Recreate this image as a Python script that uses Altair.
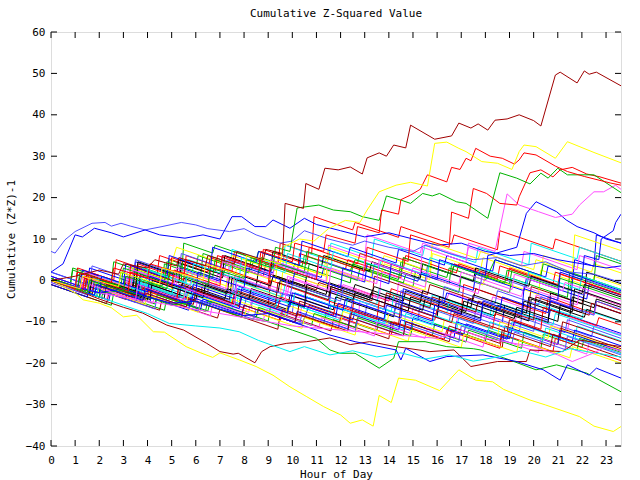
import altair as alt
import pandas as pd

TITLE = "Cumulative Z-Squared Value"
X_TITLE = "Hour of Day"
Y_TITLE = "Cumulative (Z*Z)-1"
X_TICKS = [0, 1, 2, 3, 4, 5, 6, 7, 8, 9, 10, 11, 12, 13, 14, 15, 16, 17, 18, 19, 20, 21, 22, 23]
Y_TICKS = [-40, -30, -20, -10, 0, 10, 20, 30, 40, 50, 60]
X_MAX = 23.62

# ---- background bundle of cumulative traces (hour, value) ----
S01 = [(0,0),(1.5,-3),(1.6,1),(4,-4),(4.1,1),(6.2,-3.4),(6.3,-0.4),(9,-6),(9.1,0),(12.5,-7),(12.6,-2),(14,-5),(14.1,-2),(17,-8),(17.1,-1),(20.5,-8),(20.6,-4),(22.5,-8),(22.6,-5),(23.62,-7.2)]
S02 = [(0,1),(0.8,-0.6),(0.9,3),(2.5,-0.2),(2.6,4.5),(4.8,0.1),(4.9,5),(6,2.8),(6.1,6),(8.2,1.8),(8.3,5.5),(10,2.1),(10.1,4),(12.4,-0.6),(12.5,3.5),(15,-1.5),(15.1,2),(16.5,-0.8),(16.6,4),(19,-0.8),(19.1,2.5),(21.5,-2.3),(21.6,1),(23.62,-3)]
S03 = [(0,0),(2,-4),(2.1,-1),(3.5,-3.8),(3.6,0),(5.5,-3.8),(5.6,-1.5),(7.8,-6),(7.9,-2),(9.5,-5.2),(9.6,-3),(11.5,-6.8),(11.6,-2.5),(13.8,-7),(13.9,-4),(16,-8.2),(16.1,-5),(18.7,-10.2),(18.8,-6),(20.6,-9.6),(20.7,-7),(23.62,-12.8)]
S04 = [(0,-0.5),(1.2,-2.9),(1.3,1),(3,-2.4),(3.1,0.5),(4.5,-2.3),(4.6,2),(6.8,-2.4),(6.9,1.5),(8.6,-1.9),(8.7,-0.5),(10.5,-4.1),(10.6,0),(12,-2.8),(12.1,-1),(14.3,-5.4),(14.4,-0.5),(16.4,-4.5),(16.5,-3),(18.2,-6.4),(18.3,-4),(20,-7.4),(20.1,-3.5),(22.5,-8.3),(22.6,-6),(23.62,-8)]
S05 = [(0,0),(1.5,-3),(1.6,-0.5),(3.2,-3.7),(3.3,-2),(5.5,-6.4),(5.6,-3),(7.5,-6.8),(7.6,-4),(9.8,-8.4),(9.9,-5.5),(12,-9.7),(12.1,-7),(14.6,-12),(14.7,-8),(16.8,-12.2),(16.9,-9),(19,-13.2),(19.1,-10),(21.7,-15.2),(21.8,-11),(23.62,-14.6)]
S06 = [(0,0.5),(1,-1.5),(1.1,2),(3,-1.8),(3.1,1),(5,-2.8),(5.1,0),(6.5,-2.8),(6.6,2.5),(9,-2.3),(9.1,1.5),(11,-2.3),(11.1,-0.5),(13.3,-4.9),(13.4,1),(15.6,-3.4),(15.7,-1),(17.5,-4.6),(17.6,-2),(19.8,-6.4),(19.9,-1.5),(22,-5.7),(22.1,-3),(23.62,-6)]
S07 = [(0,0),(1.3,-2.6),(1.4,0.5),(2.8,-2.3),(2.9,2),(5,-2.2),(5.1,1),(7.2,-3.2),(7.3,0.5),(9.5,-3.9),(9.6,2),(11.4,-1.6),(11.5,3),(13.2,-0.4),(13.3,2),(15.5,-2.4),(15.6,3.5),(17.9,-1.1),(18,1),(20.2,-3.4),(20.3,2.5),(22.4,-1.7),(22.5,1),(23.62,-1.2)]
S08 = [(0,0),(1.8,-3.6),(1.9,-0.5),(4,-4.7),(4.1,-1),(6,-4.8),(6.1,-2),(7.4,-4.6),(7.5,0.5),(8.5,-1.5),(8.6,2.5),(10.5,-1.3),(10.6,1),(12.5,-2.8),(12.6,-1),(14.6,-5),(14.7,-2.5),(17.2,-7.5),(17.3,-4.5),(19.5,-8.9),(19.6,-5),(21.5,-8.8),(21.6,-4),(23.62,-8)]
S09 = [(0,1),(2.2,-3.4),(2.3,0),(4,-3.4),(4.1,-1.5),(6.4,-6.1),(6.5,-3),(8.3,-6.6),(8.4,-2.5),(10.5,-6.7),(10.6,-4),(13,-8.8),(13.1,-5.5),(15.2,-9.7),(15.3,-6),(17.5,-10.4),(17.6,-7.5),(20,-12.3),(20.1,-9),(22.4,-13.6),(22.5,-11),(23.62,-13.2)]
S10 = [(0,0),(1,-2),(1.1,3),(2.6,0),(2.7,5),(4.4,1.6),(4.5,6),(6.5,2),(6.6,5.5),(8.8,1.1),(8.9,4),(10.2,1.4),(10.3,6.5),(12.2,2.7),(12.3,5),(14.5,0.6),(14.6,5.5),(16.6,1.5),(16.7,4),(18.5,0.4),(18.6,3.5),(20.8,-0.9),(20.9,2),(23.62,-3.4)]
S11 = [(0,-1),(2.5,-6),(2.6,-3),(4.7,-7.2),(4.8,-4),(6.5,-7.4),(6.6,-5),(9,-9.8),(9.1,-6),(11.3,-10.4),(11.4,-8),(13.5,-12.2),(13.6,-9),(15.8,-13.4),(15.9,-10.5),(18,-14.7),(18.1,-12),(20.3,-16.4),(20.4,-13),(22,-16.2),(22.1,-14),(23.62,-17)]
S12 = [(0,2),(1.5,-1),(1.6,3),(3.4,-0.6),(3.5,4.5),(5.3,0.9),(5.4,3),(7,-0.2),(7.1,6),(9.2,1.8),(9.3,4.5),(11.2,0.7),(11.3,3),(13,-0.4),(13.1,4),(15.2,-0.2),(15.3,2),(17.5,-2.4),(17.6,1.5),(19.6,-2.5),(19.7,0.5),(22.2,-4.5),(22.3,-1),(23.62,-3.6)]
S13 = [(0,0),(2,-4),(2.1,-2),(3.8,-5.4),(3.9,-3),(6,-7.2),(6.1,-3.5),(8.2,-7.7),(8.3,-5),(10.3,-9),(10.4,-6),(12.7,-10.6),(12.8,-5),(14.9,-9.2),(15,-7),(16.8,-10.6),(16.9,-6.5),(19.2,-11.1),(19.3,-8),(21.4,-12.2),(21.5,-9),(23.62,-13.2)]
S14 = [(0,0.5),(1.5,-2.5),(1.6,1),(3.5,-2.8),(3.6,0.5),(5.8,-3.9),(5.9,-0.5),(7.5,-3.7),(7.6,0),(9.6,-4),(9.7,-1),(11.8,-5.2),(11.9,-2.5),(13.5,-5.7),(13.6,-2),(15.7,-6.2),(15.8,-3.5),(18.2,-8.3),(18.3,-5),(20,-8.4),(20.1,-5.5),(22,-9.3),(22.1,-7),(23.62,-10)]
S15 = [(0,-1),(2.3,-5.6),(2.4,-3),(4.5,-7.2),(4.6,-4.5),(6.9,-9.1),(7,-7),(9.4,-11.8),(9.5,-8),(11.6,-12.2),(11.7,-9.5),(14,-14.1),(14.1,-10),(16.5,-14.8),(16.6,-12),(18.7,-16.2),(18.8,-11),(21,-15.4),(21.1,-11.5),(23.62,-16.5)]
S16 = [(0,0),(1.6,-3.2),(1.7,-0.5),(3.8,-4.7),(3.9,-1),(5.5,-4.2),(5.6,2),(7.5,-1.8),(7.7,3),(9.3,-0.2),(9.4,5),(11.3,1.2),(11.4,6),(13.7,1.4),(13.8,4),(15.7,0.2),(15.8,6.5),(17.8,2.5),(17.9,5.5),(20.3,0.7),(20.4,6),(22.4,2),(22.5,4),(23.62,1.8)]
S17 = [(0,0),(2,-4),(2.1,-1.5),(3.3,-3.9),(3.4,-0.5),(5.3,-4.3),(5.4,-1),(7.2,-4.6),(7.3,-2),(9.8,-7),(9.9,-3.5),(11.7,-7.1),(11.8,-4),(14.2,-8.8),(14.3,-5.5),(16,-8.9),(16.1,-4),(18.4,-8.6),(18.5,-6),(20.6,-10.2),(20.7,-3),(22.5,-6.6),(22.6,-4.5),(23.62,-6.5)]
S18 = [(0,0),(1.4,-2.8),(1.5,0.5),(3.7,-3.9),(3.8,-1),(5.6,-4.6),(5.7,-2),(8,-6.6),(8.1,-4),(10,-7.8),(10.1,-3),(12.4,-7.6),(12.5,-5),(14.2,-8.4),(14.3,-5.5),(16.5,-9.9),(16.6,-7),(19.4,-12.6),(19.5,-9),(21.3,-12.6),(21.4,-9.5),(23.62,-14)]
S19 = [(0,0),(1.2,-2.4),(1.3,-1),(3.1,-4.6),(3.2,-2),(5.4,-6.4),(5.5,-4),(7.3,-7.6),(7.4,-5.5),(9.5,-9.7),(9.6,-7),(11.9,-11.6),(12,-9),(14.1,-13.2),(14.2,-10),(16.3,-14.2),(16.4,-12),(18.6,-16.4),(18.7,-13),(20.8,-17.2),(20.9,-14),(23.62,-19.4)]
S20 = [(0,0),(0.8,-1.6),(0.9,2.5),(2.8,-1.3),(2.9,2),(4.6,-1.4),(4.7,4),(6.2,1),(6.3,6.5),(8.3,2.5),(8.4,5),(10.6,0.6),(10.7,4),(12.7,0),(12.8,3),(14.6,-0.6),(14.7,1.5),(16.9,-2.9),(17,1),(19,-3),(19.1,0.5),(21.4,-4.1),(21.5,2),(23.62,-2.2)]
S21 = [(0,0),(2.4,-4.8),(2.5,-2),(4.1,-5.2),(4.2,-3),(6.2,-7),(6.3,-4.5),(8.5,-8.9),(8.6,-7),(10.4,-10.6),(10.7,-6),(12.5,-9.6),(12.6,-7.5),(14.9,-12.1),(15,-9),(17.1,-13.2),(17.2,-10.5),(19,-14.1),(19.2,-10),(21.6,-14.8),(21.7,-12),(23.62,-15.8)]
S22 = [(0,1),(1.7,-2.4),(1.8,1.5),(3.5,-1.9),(3.6,2),(5.7,-2.2),(5.8,0),(7.5,-3.4),(7.6,1),(9.8,-3.4),(9.9,0.5),(11.8,-3.3),(11.9,-1),(13.6,-4.4),(13.7,2),(15.5,-1.6),(15.6,1),(17.7,-3.2),(17.8,-0.5),(19.5,-3.9),(19.6,-1.5),(21.8,-5.9),(21.9,-2.5),(23.62,-6)]
S23 = [(0,0),(2,-4),(2.1,-0.5),(3.6,-3.5),(3.7,-0.5),(5.5,-4.1),(5.6,-2),(7.7,-6.2),(7.8,-1.5),(10,-5.9),(10.1,-3),(12.2,-7.2),(12.3,-4),(14.1,-7.6),(14.2,-3.5),(16.4,-7.9),(16.5,-5),(18.3,-8.6),(18.4,-6),(20.8,-10.8),(20.9,-8),(23.62,-13.4)]
S24 = [(0,0),(1.1,-2.2),(1.2,1),(3,-2.6),(3.1,-0.5),(5.2,-4.7),(5.3,-1),(7.6,-5.6),(7.7,-2.5),(9.3,-5.7),(9.4,-0.5),(11.5,-4.7),(11.6,-2),(13.8,-6.4),(13.9,-3),(15.7,-6.6),(15.8,-4),(17.6,-7.6),(17.7,-5),(20,-9.6),(20.1,-4),(22.3,-8.4),(22.4,-5.5),(23.62,-8)]
S25 = [(0,0.5),(1.7,-2.9),(1.8,-0.5),(3.3,-3.5),(3.4,-1.5),(5.6,-5.9),(5.7,-3),(7.4,-6.4),(7.5,-4.5),(9.7,-8.9),(9.8,-6),(12,-10.4),(12.1,-7.5),(13.9,-11.1),(14,-8),(16.2,-12.4),(16.3,-9.5),(18.5,-13.9),(18.6,-10),(20.6,-14),(20.7,-11),(23.62,-16.8)]
S26 = [(0,0),(1.9,-3.8),(2,0),(3.6,-3.2),(3.7,1.5),(5.4,-1.9),(5.5,0.5),(7.3,-3.1),(7.4,1),(9.4,-3),(9.5,0),(11.5,-4),(11.6,-1.5),(13.2,-4.7),(13.3,-3),(15.4,-7.2),(15.5,-4.5),(17.8,-9.1),(17.9,-6),(19.8,-9.8),(19.9,-4.5),(22.1,-8.9),(22.2,-7),(23.62,-9.8)]
S27 = [(0,-0.5),(1.5,-3.5),(1.6,1.5),(3.3,-1.9),(3.4,2.5),(5.5,-1.7),(5.6,1),(7.6,-3),(7.7,0.5),(9.9,-3.9),(10,-1),(12,-5),(12.1,-2),(14.4,-6.6),(14.5,-2.5),(16.2,-5.9),(16.3,-1.5),(18.4,-5.7),(18.5,-2.5),(20.2,-5.9),(20.3,-4),(22.5,-8.4),(22.6,-5),(23.62,-7)]
S28 = [(0,0),(1.3,-2.6),(1.4,0.5),(3.6,-3.9),(3.7,-2),(5.2,-5),(5.3,-1.5),(7.5,-5.9),(7.6,-3),(9.4,-6.6),(9.5,-4),(11.7,-8.4),(11.8,-6),(13.5,-9.4),(13.6,-5),(15.9,-9.6),(16,-7),(18.3,-11.6),(18.4,-8),(20.3,-11.8),(20.4,-6.5),(22.6,-10.9),(22.7,-9),(23.62,-10.8)]
S29 = [(0,0),(2.1,-4.2),(2.2,-1.5),(4.3,-5.7),(4.4,-3.5),(6.4,-7.5),(6.5,-5),(8.5,-9),(8.6,-6.5),(10.8,-10.9),(10.9,-8),(12.6,-11.4),(12.7,-9),(14.9,-13.4),(15,-10.5),(17.2,-14.9),(17.3,-12),(19.5,-16.4),(19.6,-12.5),(21.8,-16.9),(21.9,-14),(23.62,-17.4)]
S30 = [(0,-1),(1.5,-4),(1.6,-1.5),(3.5,-5.3),(3.6,-3),(5.7,-7.2),(5.8,-4),(7.9,-8.2),(8,-6),(10.1,-10.2),(10.2,-7.5),(12.3,-11.7),(12.4,-8),(14.4,-12),(14.5,-9.5),(16.7,-13.9),(16.8,-10),(18.9,-14.2),(19,-11.5),(21,-15.5),(21.1,-12),(23.62,-17)]
S31 = [(0,0),(2.3,-4.6),(2.4,-2),(4.2,-5.6),(4.3,-4),(6.6,-8.6),(6.7,-5.5),(8.8,-9.7),(8.9,-7),(11.1,-11.4),(11.2,-9),(13.4,-13.4),(13.5,-10),(15.5,-14),(15.6,-11.5),(17.9,-16.1),(18,-13),(20.2,-17.4),(20.3,-14),(22.2,-17.8),(22.3,-15),(23.62,-17.6)]
S32 = [(0,0),(1,-2),(1.1,1.5),(3.2,-2.7),(3.3,0),(5,-3.4),(5.1,-1.5),(7.4,-6.1),(7.5,-3),(9.3,-6.6),(9.4,-4.5),(11.5,-8.7),(11.6,-6),(13.8,-10.4),(13.9,-7),(15.8,-10.8),(15.9,-8.5),(18.1,-12.9),(18.2,-10),(20.4,-14.4),(20.5,-11.5),(23.62,-17.7)]
S33 = [(0,0),(1.6,-3.2),(1.7,0),(3.4,-3.4),(3.5,-1),(5.9,-5.8),(6,-2.5),(7.8,-6.1),(7.9,-4),(10.2,-8.6),(10.3,-5),(12.4,-9.2),(12.5,-7),(14.4,-10.8),(14.5,-6),(16.6,-10.2),(16.7,-8),(18.9,-12.4),(19,-9.5),(21.1,-13.7),(21.2,-10),(23.62,-14.8)]
S34 = [(0,0),(1.9,-3.8),(2,-2),(3.9,-5.8),(4,-3.5),(6.1,-7.7),(6.2,-5.5),(8,-9.1),(8.1,-7),(10.4,-11.6),(10.5,-9),(12.6,-13.2),(12.7,-10.5),(14.8,-14.7),(14.9,-12),(17,-16.2),(17.1,-13),(19.3,-17.4),(19.4,-14.5),(21.5,-18.7),(21.6,-16),(23.62,-20)]
S35 = [(0,0.5),(1.4,-2.3),(1.5,2),(3.4,-1.8),(3.5,3),(5.3,-0.6),(5.4,4),(7.1,0.6),(7.2,2.5),(9.1,-1.3),(9.2,1),(11.4,-3.4),(11.5,-0.5),(13.2,-3.9),(13.4,-1.5),(15.3,-5.3),(15.4,-2.5),(17.4,-6.5),(17.5,-3.5),(19.7,-7.9),(19.8,-4),(21.6,-7.6),(21.7,-2),(23.62,-5.8)]
S36 = [(0,0),(2,-4),(2.1,-2.5),(4.3,-6.9),(4.4,-4),(6.1,-7.4),(6.2,-5),(8.4,-9.4),(8.5,-7),(10.3,-10.6),(10.4,-8),(12.6,-12.4),(12.7,-9.5),(14.6,-13.3),(14.7,-10.5),(16.9,-14.9),(17,-11),(19.1,-15.2),(19.2,-12.5),(21.3,-16.7),(21.4,-13.5),(23.62,-18)]
S37 = [(0,0),(1.5,-3),(1.6,2),(3.5,-1.8),(3.6,4),(5.5,0.2),(5.6,6),(7.5,2.2),(7.6,7),(9.4,3.4),(9.5,9),(10.8,6.4),(10.9,15.4),(12.5,12.2),(12.6,14),(14.4,10.4),(14.5,13),(16.6,8.8),(16.7,11),(18.5,7.4),(18.6,12),(20.8,7.6),(20.9,10),(23.62,4.6)]
S38 = [(0,0),(2,-4),(2.1,0),(3.5,-2.8),(3.6,3.5),(5.4,-0.1),(5.5,9),(6.7,6.6),(6.8,8.5),(8.5,5.1),(8.6,7),(10.4,3.4),(10.5,6),(12.4,2.2),(12.5,4),(14.4,0.2),(14.5,4.5),(16.4,0.7),(16.5,3),(18,0),(18.4,5),(20.3,1.2),(20.4,4),(22.5,-0.2),(22.6,6),(23.62,4)]
S39 = [(0,0),(1.7,-3.4),(1.8,0),(3.6,-3.6),(3.7,1),(5.8,-3.2),(5.9,-1),(7.6,-4.4),(7.7,-2),(9.9,-6.4),(10,-3),(12.1,-7.2),(12.2,-4.5),(14.5,-9.1),(14.6,-2),(16.3,-5.4),(16.4,-3),(18.6,-7.4),(18.7,-4),(20.6,-7.8),(20.7,-5),(21.5,-6.6),(21.7,5),(22.5,3.4),(22.6,11),(23.62,9)]
S40 = [(0,0),(1.8,-3.6),(1.9,1),(3.7,-2.6),(3.8,3),(5.6,-0.6),(5.7,5),(7.4,1.6),(7.5,7.5),(9.6,3.3),(9.7,8.5),(11.5,4.9),(11.6,9),(13.3,5.6),(13.4,10),(15.4,6),(15.5,8.5),(17.6,4.3),(17.7,8),(19.8,3.8),(19.9,9),(21.8,5.2),(21.9,8),(23.62,4.6)]
S41 = [(0,0),(1.2,-2.4),(1.3,1),(3.1,-2.6),(3.2,3),(5.2,-1),(5.3,2),(7.3,-2),(7.4,5),(9.2,1.4),(9.3,4),(11.4,-0.2),(11.5,8.5),(13,5.5),(13.1,11),(15.3,6.6),(15.4,9),(17.2,5.4),(17.3,8),(19.5,3.6),(19.6,7),(21.8,2.6),(21.9,6),(23.62,2.6)]
S42 = [(0,0),(1.5,-3),(1.6,1.5),(3.3,-1.9),(3.4,3),(4.8,0.2),(5.2,8),(7.4,3.6),(7.5,6),(9.3,2.4),(9.4,5),(11.4,1),(11.5,8),(13.7,3.6),(13.8,6),(15.7,2.2),(15.8,9),(17.7,5.2),(17.8,7),(20,2.6),(20.1,5),(21.6,2),(21.7,11),(23.62,7.2)]
S43 = [(0,0),(2.2,-4.4),(2.3,-1),(4.1,-4.6),(4.2,0),(6.3,-4.2),(6.4,-1),(8.2,-4.6),(8.3,-2),(10.5,-6.4),(10.6,-1),(12.5,-4.8),(12.6,-3),(14.8,-7.4),(14.9,-4),(17,-8.2),(17.1,-5),(19.2,-9.2),(19.3,-6.5),(21,-9.9),(21.1,-6),(22,-7.8),(22.2,2),(23.62,-0.8)]
S44 = [(0,0),(1.7,-3.4),(1.8,-1),(3.8,-5),(3.9,-3),(5.6,-6.4),(5.7,-4.5),(7.9,-8.9),(8,-6),(10.1,-10.2),(10.2,-8),(12.3,-12.2),(12.4,-9),(14.6,-13.4),(14.7,-10),(16.4,-13.4),(16.5,-11),(18.6,-15.2),(18.7,-12),(20.7,-16),(20.8,-13),(23.62,-18.6)]
S45 = [(0,2),(1.6,-1.2),(1.7,3.5),(3.4,0.1),(3.5,5),(5.3,1.4),(5.4,6.5),(7.2,2.9),(7.3,5),(9.1,1.4),(9.2,4.5),(11,0.9),(11.1,5),(13.3,0.6),(13.4,4),(15.5,-0.2),(15.6,3.5),(17.8,-0.9),(17.9,2),(19.7,-1.6),(19.8,1),(22.1,-3.6),(22.2,0),(23.62,-2.8)]
S46 = [(0,0),(1.4,-2.8),(1.5,1.5),(3.2,-1.9),(3.3,3.5),(4.9,0.3),(5,5.5),(6.8,1.9),(6.9,6),(8.7,2.4),(8.8,7.5),(10.6,3.9),(10.7,8),(12.7,4),(12.8,6.5),(14.6,2.9),(14.7,6),(16.8,1.8),(16.9,4),(18.9,0),(19,3),(21,-1),(21.1,1.5),(23.62,-3.5)]
S47 = [(0,0),(1.6,-3.2),(1.7,1),(3.5,-2.6),(3.6,4.5),(5.2,1.3),(5.3,5),(7.1,1.4),(7.2,6),(9.1,2.2),(9.2,7),(11.2,3),(11.3,6),(13.2,2.2),(13.3,4.5),(15.3,0.5),(15.4,4),(17.5,-0.2),(17.6,3),(19.8,-1.4),(19.9,1),(22,-3.2),(22.1,-1),(23.62,-4)]
S48 = [(0,1),(1.2,-1.4),(1.3,2.5),(3,-0.9),(3.1,4),(4.8,0.6),(4.9,6),(6.6,2.6),(6.7,8),(8.5,4.4),(8.6,7),(10.3,3.6),(10.4,9.5),(12.3,5.7),(12.4,8),(14.3,4.2),(14.4,7.5),(16.3,3.7),(16.4,6),(18.3,2.2),(18.4,5),(20.5,0.8),(20.6,3.5),(23.62,-2.5)]
S49 = [(0,0),(1.9,-3.8),(2,1),(3.9,-2.8),(4,2.5),(5.8,-1.1),(5.9,4),(7.8,0.2),(7.9,5.5),(9.7,1.9),(9.8,6.5),(11.6,2.9),(11.7,7),(13.6,3.2),(13.7,5),(15.6,1.2),(15.7,5.5),(17.7,1.5),(17.8,3),(19.7,-0.8),(19.8,2),(21.9,-2.2),(22,1),(23.62,-2.2)]
S50 = [(0,0.5),(1.1,-1.7),(1.2,2),(2.9,-1.4),(3,3),(4.7,-0.4),(4.8,4.5),(6.7,0.7),(6.8,5),(8.6,1.4),(8.7,5.5),(10.5,1.9),(10.6,7),(12.5,3.2),(12.6,5),(14.5,1.2),(14.6,5.5),(16.6,1.5),(16.7,3.5),(18.8,-0.7),(18.9,2.5),(21,-1.7),(21.1,0.5),(23.62,-4.5)]
S51 = [(0,0),(1.3,-2.6),(1.4,2),(3.3,-1.8),(3.4,2.5),(5.1,-0.9),(5.2,3),(7,-0.6),(7.1,4.5),(9,0.7),(9.1,5),(11,1.2),(11.1,3.5),(12.9,-0.1),(13,5),(14.9,1.2),(15,3),(16.9,-0.8),(17,2),(19.1,-2.2),(19.2,1.5),(21.2,-2.5),(21.3,-0.5),(23.62,-5)]

# ---- prominent traces ----
DARKRED_TOP = [(0,0),(1,1),(2,2.5),(2.8,1.5),(3,4),(4,3),(4.3,5),(5.2,3.5),(5.3,5.5),(6.4,3.5),(6.5,6),(7.6,4),(7.7,7),(8.8,5),(8.9,7.5),(9.6,6.5),(9.7,18.6),(10.46,17.4),(10.56,23.4),(11.1,22),(11.35,27.1),(11.9,26.7),(12.4,27.4),(12.9,25.7),(13.1,29.6),(13.6,30.8),(13.9,30),(14.2,32.7),(14.7,32),(14.9,37.5),(15.9,34.1),(16.6,34.9),(16.9,38),(17.4,36.8),(17.7,37.8),(18.1,36.3),(18.4,38.7),(18.9,39),(19.4,40),(20.0,38.6),(20.3,37.3),(20.9,49.6),(21.1,50.3),(21.8,47.7),(22.1,50.6),(22.3,49.8),(22.6,50.3),(23.62,47)]
YELLOW_TOP = [(0,0),(1.2,-2),(1.3,1),(2.8,-1.5),(2.9,2),(4.5,-1),(4.6,3),(6.3,0),(6.4,4),(8,1),(8.1,6),(9.5,4),(9.6,8),(10.3,10),(10.9,9.5),(11.5,12.5),(12.2,14.5),(12.8,14),(13.1,17),(13.6,21.4),(14.3,23),(14.9,23.7),(15.6,22.8),(15.9,33.1),(16.4,33.4),(16.9,31.9),(17.2,31.1),(17.85,28.7),(18.5,28.3),(19.1,26.8),(19.4,31.1),(19.6,32.7),(20.1,32.3),(20.9,29.5),(21.4,33.5),(22.5,30.9),(23.62,28.4)]
RED_TOP = [(0,0),(1,-2),(1.1,2),(2.5,-0.5),(2.6,3),(4,0.5),(4.1,4),(5.5,1.5),(5.6,5),(7,2.5),(7.1,6),(8.6,3),(8.7,7),(10,4.5),(10.1,9),(11.3,7),(11.4,11),(12.6,9),(12.7,13),(13.6,11.5),(13.7,17),(14.4,16),(14.5,19.5),(14.9,20.6),(15.3,22),(15.6,25.5),(16.4,23.8),(16.6,27.3),(16.95,26.8),(17.2,29.5),(17.4,28.9),(17.6,31.9),(18.2,30),(18.7,29.5),(19.2,28.1),(19.4,29.1),(19.6,30.8),(20.1,30.3),(20.9,27.6),(21.4,26.3),(22.1,25.1),(23.2,23.5),(23.62,23)]
GREEN_TOP = [(0,0),(1.5,-3),(1.6,0),(3,-2.5),(3.1,1),(4.8,-2),(4.9,2),(6.5,-1),(6.6,3),(8,0.5),(8.1,5),(9.2,3),(9.3,8),(9.9,7),(10.2,17.5),(11.1,18.2),(11.7,17),(12.4,16.6),(12.9,15.4),(13.6,14.5),(13.9,20.4),(14.5,19.4),(14.9,18.6),(15.4,21),(15.8,20.4),(16.1,21),(16.8,19),(17.2,18.6),(18.1,15),(18.6,26),(19.3,24.7),(19.85,23.3),(20.3,25.9),(20.6,24.7),(21,27.1),(21.4,25.5),(22.5,25.5),(23.62,21.2)]
RED_SECOND = [(0,0),(1.3,-2.6),(1.4,1),(3.2,-2.6),(3.3,2),(5,-1.4),(5.1,2.5),(7,-1.3),(7.1,3),(9,-0.8),(9.1,4),(11,0.2),(11.1,6),(13,2.2),(13.1,8),(14.8,4.6),(14.9,11),(16.5,8),(16.6,16.5),(17.3,15),(17.5,22.2),(18.05,21),(18.6,18.6),(19.3,18.2),(19.4,20.2),(19.85,26),(20.3,26.7),(20.8,25),(21.1,26.7),(21.6,27.3),(22.2,25.7),(22.75,25),(23.62,23.5)]
MAGENTA_UP = [(0,0),(1.5,-3),(1.6,-1),(3.5,-4.8),(3.6,-1),(5.5,-4.8),(5.6,-2),(7.6,-6),(7.7,-1),(9.7,-5),(9.8,1),(11.5,-2.4),(11.6,3),(13.5,-0.8),(13.6,5),(15.3,1.6),(15.4,8),(17.2,4.4),(17.3,9),(18.4,7),(18.9,20.9),(19.4,18.2),(20.2,16.6),(20.9,15.2),(21.6,16),(21.9,18.2),(22.5,21.4),(22.9,21.4),(23.4,23),(23.62,22)]
BLUE_UP = [(0,0),(2,-3),(2.1,1),(4,-2.8),(4.1,1),(6,-2.8),(6.1,2),(8,-1.8),(8.1,3),(10,-0.8),(10.1,2),(12,-1.8),(12.1,3),(14,-0.8),(14.1,4),(16,0.2),(16.1,5),(18,1.2),(18.1,6),(19.3,8),(19.7,16.2),(20.1,19),(20.95,16.6),(21.35,14.6),(21.8,13),(22.5,11.5),(23,10),(23.62,9)]
LIGHTBLUE_TOP = [(0,7),(0.17,6.6),(0.58,9.8),(1,11.8),(1.7,13.8),(2.24,14),(2.5,13.1),(2.9,13.8),(3.3,13.1),(3.9,12.2),(4.6,13),(5.4,14),(6,13.4),(6.5,12.5),(7.4,11.8),(8,12.5),(8.5,11),(9.5,9),(10,9.5),(10.5,12),(11.5,10),(12.5,8.5),(13,9.5),(14,8),(15,7),(15.5,8.5),(16.5,6.5),(17.5,5),(18.5,5.5),(19.5,3.5),(20.5,4.5),(21.5,2),(22.5,1.5),(23.62,-0.5)]
BLUE_TOP = [(0,2),(0.5,4),(1,11),(1.3,10.5),(1.8,12.6),(2.5,11.5),(3,10.5),(3.9,12.2),(4.5,11),(5.55,10.2),(6.3,11),(7,10),(7.5,15.4),(7.9,15.4),(8.45,13),(8.9,13),(9.2,14.6),(9.9,12.6),(10.5,15),(11,13.5),(12,12),(13,10.5),(14,11.5),(15,10),(16,8.5),(17,9),(18,7),(19,6),(20,6.5),(21,5),(22,4),(23,3),(23.62,3.5)]
BLUE_END = [(0,0),(1.8,-3.6),(1.9,-1),(3.8,-4.8),(3.9,-2),(5.8,-5.8),(5.9,-3),(7.8,-6.8),(7.9,-4),(9.8,-7.8),(9.9,-5),(11.8,-8.8),(11.9,-5.5),(13.8,-9.3),(13.9,-6),(15.8,-9.8),(15.9,-6),(17.8,-9.8),(17.9,-5),(19.5,-8.2),(19.6,-2),(21,-4.8),(21.1,2),(22,0.2),(22.1,6),(22.7,5),(22.8,10),(23.3,12),(23.4,14),(23.62,16)]
YELLOW_BOTTOM = [(0,0),(1,-3),(1.33,-4.7),(2,-5.5),(2.5,-6.6),(3.0,-8.8),(3.55,-8.4),(4.24,-12.4),(4.7,-12.5),(5.6,-16),(6.2,-17.5),(6.7,-18.6),(7.0,-17.5),(7.8,-19.2),(8.5,-20.8),(9.2,-22.9),(9.9,-25.7),(10.6,-28.1),(11.3,-30.5),(12.0,-32.5),(12.4,-34.5),(12.9,-33.7),(13.35,-35.2),(13.6,-27.8),(14.1,-29.5),(14.4,-23.6),(15.1,-24.1),(16.1,-26.6),(16.9,-21.6),(17.6,-24.1),(18.3,-24.5),(18.75,-26.3),(19.85,-28.9),(20.5,-30.1),(21.9,-32.9),(22.5,-35.2),(23.3,-36.5),(23.62,-35.3)]
DARKRED_BOTTOM = [(0,0),(1,-2.2),(2,-4.5),(3,-6.5),(3.8,-7.9),(4.8,-10.8),(5.5,-12),(6.45,-15.2),(7.0,-17.2),(7.55,-17.8),(7.76,-17.6),(8.45,-19.9),(8.73,-17.2),(9.08,-16),(9.77,-15.2),(10.6,-14.8),(11.56,-13.9),(12.4,-15.5),(13.2,-14.8),(14.3,-16),(15.7,-17.2),(16.7,-16.8),(17.4,-20.8),(18.5,-19.6),(19.7,-19.6),(19.85,-16.8),(21.2,-17.2),(21.9,-14.4),(23.62,-16)]
GREEN_BOTTOM = [(0,0),(1,-2),(2,-3),(3,-2.5),(4,-4),(5,-6),(6,-5),(7,-7),(8,-9),(9,-10),(10,-12),(11,-14),(11.56,-16.8),(11.97,-17.6),(12.6,-17.6),(13.6,-21.2),(14.2,-18.8),(14.4,-14.8),(15.5,-14.8),(16.4,-16),(17.5,-16.5),(17.8,-16.8),(19.0,-19.2),(20.1,-21.6),(20.95,-20.4),(22.2,-22.4),(23.62,-26.9)]
BLUE_BOTTOM = [(0,0),(1,-1.5),(2,-3),(3,-2),(4,-4),(5,-5.5),(6,-5),(7,-7),(8,-8.5),(9,-8),(10,-10),(11,-12),(11.56,-13.2),(12.6,-14.8),(14.3,-16.8),(14.5,-19.2),(14.7,-16.4),(15.7,-19.6),(16.4,-18.4),(17.9,-18),(19.3,-19.6),(20.4,-21.6),(21.1,-24.1),(21.4,-20.4),(22.3,-22.9),(22.6,-21.2),(23.62,-23.6)]
CYAN_BOTTOM = [(0,0),(1,-2),(2,-4),(3,-6),(4,-8),(4.9,-10.4),(6,-11),(7,-11.5),(7.8,-12.4),(8.6,-14.5),(9.9,-17.2),(10.5,-16),(11.56,-18),(12.5,-17),(13.5,-18.5),(14.5,-17.5),(15.5,-19),(16.5,-18),(17.5,-19.5),(18.5,-18.5),(19.5,-17),(20.5,-18.5),(21.5,-16.5),(22.5,-17.5),(23.62,-18.5)]
MAGENTA_BOTTOM = [(0,0),(2,-3),(4,-5),(6,-7),(8,-9),(10,-11),(12,-12),(14,-13),(16,-14),(17,-12),(18,-14),(19,-15),(20,-16),(21,-18),(21.6,-19.6),(22.5,-17.5),(23,-16),(23.62,-17)]

PALETTE = {
    "red": "#ff0000", "green": "#00b400", "blue": "#0000ff", "magenta": "#ff4cff",
    "cyan": "#00f0f0", "darkred": "#a00000", "yellow": "#ffff00", "black": "#000000",
    "lightblue": "#5050ff",
}

SERIES = [
    ("S01", "red", S01), ("S02", "green", S02), ("S03", "blue", S03), ("S04", "magenta", S04),
    ("S05", "cyan", S05), ("S06", "darkred", S06), ("S07", "yellow", S07), ("S08", "black", S08),
    ("S09", "lightblue", S09), ("S10", "red", S10), ("S11", "green", S11), ("S12", "blue", S12),
    ("S13", "magenta", S13), ("S14", "cyan", S14), ("S15", "darkred", S15), ("S16", "yellow", S16),
    ("S17", "black", S17), ("S18", "lightblue", S18), ("S19", "red", S19), ("S20", "green", S20),
    ("S21", "blue", S21), ("S22", "magenta", S22), ("S23", "cyan", S23), ("S24", "darkred", S24),
    ("S25", "yellow", S25), ("S26", "black", S26), ("S27", "lightblue", S27), ("S28", "red", S28),
    ("S29", "green", S29), ("S30", "blue", S30), ("S31", "magenta", S31), ("S32", "cyan", S32),
    ("S33", "darkred", S33), ("S34", "yellow", S34), ("S35", "black", S35), ("S36", "lightblue", S36),
    ("S37", "red", S37), ("S38", "green", S38), ("S39", "blue", S39), ("S40", "cyan", S40),
    ("S41", "magenta", S41), ("S42", "yellow", S42), ("S43", "black", S43), ("S44", "darkred", S44),
    ("S45", "lightblue", S45), ("S46", "red", S46), ("S47", "black", S47), ("S48", "blue", S48),
    ("S49", "cyan", S49), ("S50", "green", S50), ("S51", "magenta", S51),
    ("YELLOW_BOTTOM", "yellow", YELLOW_BOTTOM), ("DARKRED_BOTTOM", "darkred", DARKRED_BOTTOM),
    ("GREEN_BOTTOM", "green", GREEN_BOTTOM), ("BLUE_BOTTOM", "blue", BLUE_BOTTOM),
    ("CYAN_BOTTOM", "cyan", CYAN_BOTTOM), ("MAGENTA_BOTTOM", "magenta", MAGENTA_BOTTOM),
    ("LIGHTBLUE_TOP", "lightblue", LIGHTBLUE_TOP), ("BLUE_TOP", "blue", BLUE_TOP),
    ("BLUE_END", "blue", BLUE_END), ("BLUE_UP", "blue", BLUE_UP), ("MAGENTA_UP", "magenta", MAGENTA_UP),
    ("RED_SECOND", "red", RED_SECOND), ("GREEN_TOP", "green", GREEN_TOP), ("RED_TOP", "red", RED_TOP),
    ("YELLOW_TOP", "yellow", YELLOW_TOP), ("DARKRED_TOP", "darkred", DARKRED_TOP),
]

rows = []
for name, col, pts in SERIES:
    for i, (x, y) in enumerate(pts):
        rows.append({"series": name, "x": x, "y": y, "i": i})
df = pd.DataFrame(rows)

names = [s[0] for s in SERIES]
colors = [PALETTE[s[1]] for s in SERIES]

W, H = 570, 414
FONT = "DejaVu Sans Mono"
FS = 11

xscale = alt.Scale(domain=[0, X_MAX], nice=False, zero=False)
yscale = alt.Scale(domain=[-40, 60], nice=False, zero=False)

x_axis = alt.Axis(values=X_TICKS, title=X_TITLE, ticks=False, domain=False, grid=False,
                  labelPadding=8, titlePadding=3, labelFlush=False, labelOverlap=False,
                  labelFont=FONT, labelFontSize=FS, labelColor="black", labelFontWeight="normal",
                  titleFont=FONT, titleFontSize=FS, titleFontWeight="normal", titleColor="black")
y_axis = alt.Axis(values=Y_TICKS, title=Y_TITLE, ticks=False, domain=False, grid=False,
                  labelPadding=6, titlePadding=9, labelOverlap=False, labelFlush=False,
                  labelFont=FONT, labelFontSize=FS, labelColor="black", labelFontWeight="normal",
                  titleFont=FONT, titleFontSize=FS, titleFontWeight="normal", titleColor="black")

lines = alt.Chart(df).mark_line(strokeWidth=1, clip=True).encode(
    x=alt.X("x:Q", scale=xscale, axis=x_axis),
    y=alt.Y("y:Q", scale=yscale, axis=y_axis),
    color=alt.Color("series:N", scale=alt.Scale(domain=names, range=colors), legend=None),
    order=alt.Order("i:Q"),
)

xt = pd.DataFrame({"x": X_TICKS})
yt = pd.DataFrame({"y": Y_TICKS})
tick_bottom = alt.Chart(xt).mark_rule(color="black", strokeWidth=1).encode(
    x=alt.X("x:Q", scale=xscale, axis=x_axis), y=alt.value(H), y2=alt.value(H - 6))
tick_top = alt.Chart(xt).mark_rule(color="black", strokeWidth=1).encode(
    x=alt.X("x:Q", scale=xscale, axis=x_axis), y=alt.value(0), y2=alt.value(6))
tick_left = alt.Chart(yt).mark_rule(color="black", strokeWidth=1).encode(
    y=alt.Y("y:Q", scale=yscale, axis=y_axis), x=alt.value(0), x2=alt.value(6))
tick_right = alt.Chart(yt).mark_rule(color="black", strokeWidth=1).encode(
    y=alt.Y("y:Q", scale=yscale, axis=y_axis), x=alt.value(W), x2=alt.value(W - 6))

chart = alt.layer(lines, tick_bottom, tick_top, tick_left, tick_right).properties(
    width=W, height=H,
    title=alt.TitleParams(TITLE, font=FONT, fontSize=FS, fontWeight="normal", color="black",
                          anchor="middle", offset=7),
    autosize=alt.AutoSizeParams(type="none"),
    padding={"left": 51, "top": 32, "right": 19, "bottom": 34},
).configure_view(
    stroke="black", strokeWidth=1
).configure(background="white")

chart.save("out.html", embed_options={"renderer": "svg", "actions": False})
